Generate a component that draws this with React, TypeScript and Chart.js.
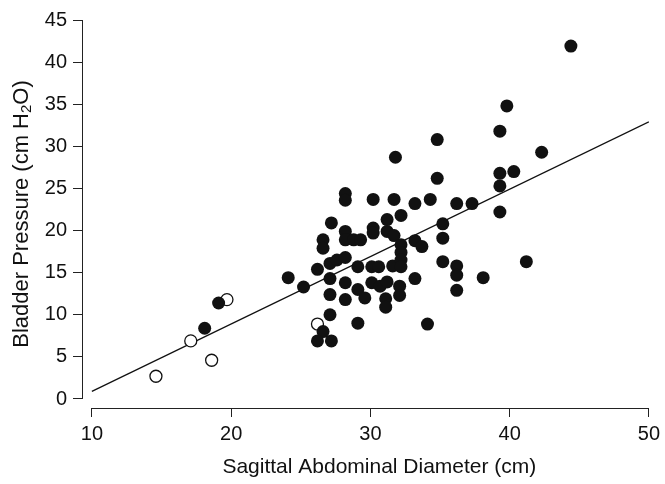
import React, { useEffect, useRef } from 'react';
import { Chart, registerables } from 'chart.js';

Chart.register(...registerables);

const xTickValues = [10, 20, 30, 40, 50];
const yTickValues = [0, 5, 10, 15, 20, 25, 30, 35, 40, 45];

const openX = [14.6, 17.1, 18.6, 19.7, 26.2];
const openY = [2.7, 6.9, 4.6, 11.8, 8.9];

const filledX = [
  18.1, 19.1, 24.1, 25.2, 26.2, 26.6, 26.6, 26.6, 26.2, 27.2,
  27.1, 27.1, 27.1, 27.1, 27.6, 28.2, 27.2, 28.2, 28.2, 28.2,
  28.2, 28.8, 29.3, 28.2, 28.2, 29.1, 29.1, 29.6, 29.1, 30.2,
  30.2, 30.2, 30.1, 30.6, 30.1, 30.7, 31.2, 31.1, 31.1, 31.2,
  31.2, 31.7, 31.6, 31.7, 31.8, 32.2, 32.2, 32.2, 32.2, 32.2,
  32.1, 32.1, 33.2, 33.2, 33.7, 33.2, 34.3, 34.1, 34.8, 34.8,
  35.2, 35.2, 35.2, 36.2, 36.2, 36.2, 36.2, 37.3, 38.1, 39.3,
  39.3, 39.3, 40.3, 39.3, 39.8, 42.3, 41.2, 44.4,
];
const filledY = [
  8.4, 11.4, 14.4, 13.3, 15.4, 18.9, 17.9, 8.0, 6.9, 6.9,
  10.0, 12.4, 14.3, 16.1, 16.5, 16.8, 20.9, 24.4, 23.6, 19.9,
  18.9, 18.9, 18.9, 13.8, 11.8, 15.7, 13.0, 12.0, 9.0, 23.7,
  20.3, 19.7, 15.7, 15.7, 13.8, 13.4, 13.9, 11.9, 10.9, 21.3,
  19.9, 19.4, 15.8, 23.7, 28.7, 21.8, 18.3, 17.4, 16.5, 15.7,
  13.4, 12.3, 23.2, 18.8, 18.1, 14.3, 23.7, 8.9, 30.8, 26.2,
  20.8, 19.1, 16.3, 15.8, 14.7, 12.9, 23.2, 23.2, 14.4, 22.2,
  25.3, 26.8, 27.0, 31.8, 34.8, 29.3, 16.3, 41.9,
];

const fitX = [10, 50];
const fitY = [0.9, 32.9];

const xTitle = 'Sagittal Abdominal Diameter (cm)';
const yTitleParts = ['Bladder Pressure (cm H', '2', 'O)'];

const FONT = '"Liberation Sans", Arial, Helvetica, sans-serif';

const axesPlugin = {
  id: 'customAxes',
  afterDraw(chart: any) {
    const ctx = chart.ctx;
    const xs = chart.scales.x;
    const ys = chart.scales.y;
    const area = chart.chartArea;
    ctx.save();
    ctx.strokeStyle = '#222';
    ctx.lineWidth = 1;
    // y axis line
    ctx.beginPath();
    ctx.moveTo(area.left + 0.5, ys.getPixelForValue(yTickValues[0]));
    ctx.lineTo(area.left + 0.5, ys.getPixelForValue(yTickValues[yTickValues.length - 1]));
    ctx.stroke();
    // x axis line
    ctx.beginPath();
    ctx.moveTo(xs.getPixelForValue(xTickValues[0]), area.bottom + 0.5);
    ctx.lineTo(xs.getPixelForValue(xTickValues[xTickValues.length - 1]), area.bottom + 0.5);
    ctx.stroke();

    ctx.fillStyle = '#111';
    // x title
    ctx.font = `21px ${FONT}`;
    ctx.textAlign = 'center';
    ctx.textBaseline = 'middle';
    const xc = (xs.getPixelForValue(xTickValues[0]) + xs.getPixelForValue(xTickValues[xTickValues.length - 1])) / 2 + 9;
    ctx.fillText(xTitle, xc, 467);

    // y title with subscript
    ctx.translate(22, 214);
    ctx.rotate(-Math.PI / 2);
    ctx.textAlign = 'left';
    ctx.textBaseline = 'middle';
    const mainFont = `22px ${FONT}`;
    const subFont = `15px ${FONT}`;
    ctx.font = mainFont;
    const w0 = ctx.measureText(yTitleParts[0]).width;
    const w2 = ctx.measureText(yTitleParts[2]).width;
    ctx.font = subFont;
    const w1 = ctx.measureText(yTitleParts[1]).width;
    const total = w0 + w1 + w2;
    let x = -total / 2;
    ctx.font = mainFont;
    ctx.fillText(yTitleParts[0], x, 0);
    x += w0;
    ctx.font = subFont;
    ctx.fillText(yTitleParts[1], x, 5);
    x += w1;
    ctx.font = mainFont;
    ctx.fillText(yTitleParts[2], x, 0);
    ctx.restore();
  },
};

export default function App() {
  const canvasRef = useRef<HTMLCanvasElement | null>(null);

  useEffect(() => {
    if (!canvasRef.current) return;
    const chart = new Chart(canvasRef.current, {
      type: 'scatter',
      data: {
        datasets: [
          {
            type: 'line',
            data: fitX.map((x, i) => ({ x, y: fitY[i] })),
            borderColor: '#111',
            borderWidth: 1.3,
            pointRadius: 0,
            fill: false,
            order: 3,
          } as any,
          {
            data: openX.map((x, i) => ({ x, y: openY[i] })),
            pointRadius: 6,
            pointBackgroundColor: '#ffffff',
            pointBorderColor: '#111',
            pointBorderWidth: 1.3,
            order: 2,
          },
          {
            data: filledX.map((x, i) => ({ x, y: filledY[i] })),
            pointRadius: 6.5,
            pointBackgroundColor: '#111',
            pointBorderColor: '#111',
            pointBorderWidth: 0,
            order: 1,
          },
        ],
      },
      options: {
        animation: false,
        responsive: false,
        maintainAspectRatio: false,
        events: [],
        layout: { padding: { top: 20, right: 13, left: 0, bottom: 0 } },
        plugins: {
          legend: { display: false },
          tooltip: { enabled: false },
        },
        scales: {
          x: {
            type: 'linear',
            min: 9.29,
            max: 50,
            afterFit: (scale: any) => { scale.height = 76; },
            afterBuildTicks: (scale: any) => { scale.ticks = xTickValues.map((v) => ({ value: v })); },
            border: { display: false },
            grid: { drawOnChartArea: false, drawTicks: true, tickLength: 9, color: '#222', lineWidth: 1 },
            ticks: { color: '#111', font: { family: FONT, size: 20 }, padding: 5, maxRotation: 0 },
          },
          y: {
            type: 'linear',
            min: -1.07,
            max: 45,
            afterFit: (scale: any) => { scale.width = 82; },
            afterBuildTicks: (scale: any) => { scale.ticks = yTickValues.map((v) => ({ value: v })); },
            border: { display: false },
            grid: { drawOnChartArea: false, drawTicks: true, tickLength: 9, color: '#222', lineWidth: 1 },
            ticks: { color: '#111', font: { family: FONT, size: 20 }, padding: 6 },
          },
        },
      },
      plugins: [axesPlugin],
    });
    return () => chart.destroy();
  }, []);

  return (
    <div style={{ position: 'fixed', left: 0, top: 0, width: 665, height: 484, background: '#fff' }}>
      <canvas ref={canvasRef} width={665} height={484} style={{ width: 665, height: 484 }} />
    </div>
  );
}
